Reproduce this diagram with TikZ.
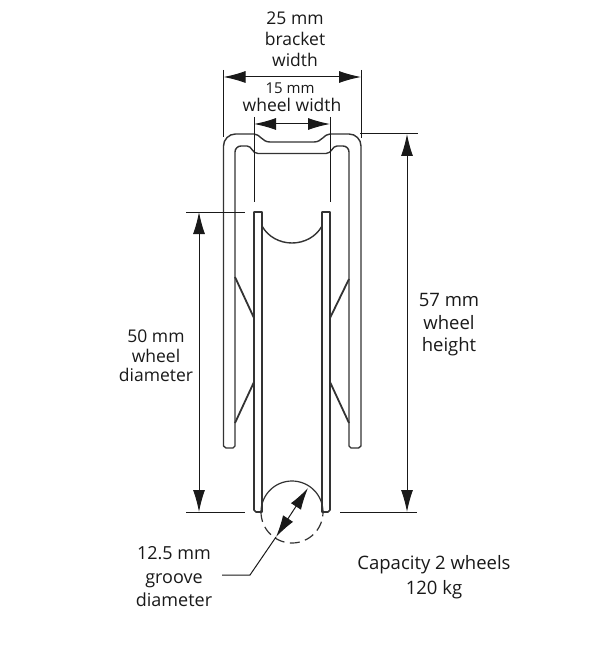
\documentclass[tikz,border=0pt]{standalone}
\usepackage{fontspec}
\setmainfont{Open Sans}
\usetikzlibrary{arrows.meta}
\tikzset{
  part/.style={draw=black!80,line width=1.4pt,line join=round},
  dimline/.style={draw=black!90,line width=1pt},
  dimarrow/.style={dimline,{Latex[length=22pt,width=12pt]}-{Latex[length=22pt,width=12pt]}},
  lbl/.style={align=center,inner sep=0pt,text=black!90,font=\fontsize{17.5}{21}\selectfont},
}
\begin{document}
\begin{tikzpicture}[x=1pt,y=-1pt]
\useasboundingbox (0,0) rectangle (614,652);

% bracket
\draw[part] (226,448) -- (223.5,446) -- (223.5,146) arc[start angle=180,end angle=270,radius=12] -- (254,134)
  .. controls (260,134) and (262,142) .. (270,142) -- (314,142)
  .. controls (322,142) and (324,134) .. (330,134) -- (349,134)
  arc[start angle=270,end angle=360,radius=12] -- (361,446) -- (358.5,448) -- (351,448) -- (349,446) -- (349,152)
  arc[start angle=0,end angle=-90,radius=6] -- (337,146)
  .. controls (332,146) and (332,153.5) .. (326,153.5) -- (258,153.5)
  .. controls (252,153.5) and (252,146) .. (247,146) -- (241,146)
  arc[start angle=-90,end angle=-180,radius=6] -- (235,446) -- (233,448) -- cycle;

% struts
\foreach \xa/\xb/\ya/\yb in {235/254/277/318,235/254/423/382,349/330/279/318,349/330/423/382}
  \draw[part,line width=1.8pt] (\xa,\ya) -- (\xb,\yb);

% wheel
\draw[part,line width=1.6pt] (254,212) -- (254,510) -- (256,512) -- (262,512) -- (262,212) -- cycle;
\draw[part,line width=1.6pt] (322,212) -- (322,512) -- (328,512) -- (330,510) -- (330,212) -- cycle;
\draw[part] (262,226) .. controls (268,237) and (280,243) .. (292,243) .. controls (304,243) and (316,237) .. (322,226);

% groove circle
\draw[part,line width=1.2pt] (261,512) arc[start angle=180,end angle=360,radius=31];
\draw[part,line width=1.2pt,dash pattern=on 10pt off 5.5pt] (261,512) arc[start angle=180,end angle=0,radius=31];

% dimension points
\coordinate (bracketL) at (223.5,77);
\coordinate (bracketR) at (361,77);
\coordinate (wheelL) at (254,124);
\coordinate (wheelR) at (330,124);
\coordinate (diaT) at (199,212);
\coordinate (diaB) at (199,512);
\coordinate (heightT) at (407,134);
\coordinate (heightB) at (407,512);
\coordinate (grooveA) at (276,537);
\coordinate (grooveB) at (308,488);
\coordinate (leaderE) at (250,575);
\coordinate (leaderS) at (222,575);

% extension lines
\foreach \xa/\ya/\xb/\yb in {223.5/70/223.5/137,361/70/361/138,254/117/254/202,330/117/330/202,
  186/212/245/212,186/512/245/512,360/134/418/134,340/512/417/512}
  \draw[dimline] (\xa,\ya) -- (\xb,\yb);

% dimensions
\draw[dimarrow] (bracketL) -- (bracketR);
\draw[dimarrow] (wheelL) -- (wheelR);
\draw[dimarrow] (diaT) -- (diaB);
\draw[dimarrow] (heightT) -- (heightB);
\draw[dimarrow] (grooveA) -- (grooveB);
\draw[dimline] (grooveA) -- (leaderE) -- (leaderS);

% labels
\node[lbl] (bracketLbl) at (295,39) {25 mm\\bracket\\width};
\node[lbl,font=\fontsize{15}{16}\selectfont] (wheelNum) at (290,88) {15 mm};
\node[lbl] (wheelLbl) at (292,105) {wheel width};
\node[lbl,font=\fontsize{18.5}{22.5}\selectfont] (heightLbl) at (449,325) {57 mm\\wheel\\height};
\node[lbl,font=\fontsize{17.5}{19.5}\selectfont] (diaLbl) at (156,356) {50 mm\\wheel\\diameter};
\node[lbl,font=\fontsize{18}{23.5}\selectfont] (grooveLbl) at (174,577) {12.5 mm\\groove\\diameter};
\node[lbl,font=\fontsize{18.5}{25}\selectfont] (capLbl) at (434,577) {Capacity 2 wheels\\120 kg};
\end{tikzpicture}
\end{document}
